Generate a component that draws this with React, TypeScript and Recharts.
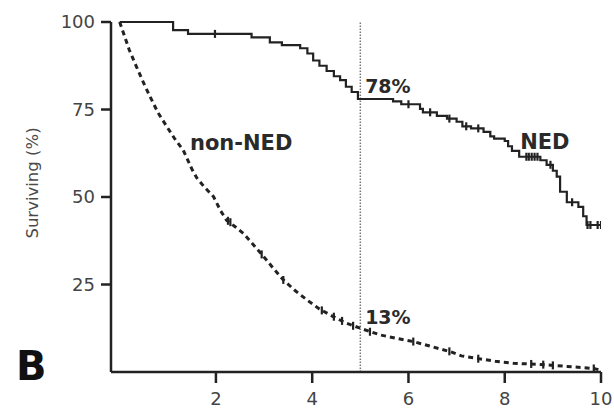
import React from 'react';
import {
  ComposedChart,
  Line,
  Scatter,
  XAxis,
  YAxis,
  ReferenceLine,
  ReferenceDot,
} from 'recharts';

// NED group: Kaplan-Meier steps (years, % surviving)
const nedTime = [
  0, 1.11, 1.42, 2.74, 3.12, 3.37, 3.75, 3.9, 4.02, 4.15, 4.3, 4.45, 4.58, 4.7, 4.82, 4.95,
  5.68, 5.85, 6.24, 6.3, 6.59, 6.8, 7.0, 7.12, 7.3, 7.56, 7.7, 7.78, 8.0, 8.07, 8.15, 8.3,
  8.74, 8.87, 9.0, 9.08, 9.15, 9.29, 9.53, 9.63, 9.7, 10.0,
];
const nedSurv = [
  100, 97.7, 96.6, 95.6, 94.2, 93.4, 92.5, 91, 89, 87.5, 86, 84.5, 83.4, 81.5, 80, 78,
  77.3, 76.5, 75.2, 74.2, 73.2, 72.4, 71.5, 70.2, 69.6, 68.6, 67.3, 66.7, 66, 64.5, 63.2, 61.5,
  60.5, 59.2, 57.5, 55.8, 51.5, 48.5, 47.2, 44.5, 42, 42,
];
const nedCensorTime = [1.98, 6.0, 6.45, 6.85, 7.2, 7.45, 8.45, 8.5, 8.56, 8.62, 8.68, 8.95, 9.4, 9.72, 9.78, 9.93, 10.0];
const nedCensorSurv = [96.6, 76.5, 74.2, 72.4, 70.2, 69.6, 61.5, 61.5, 61.5, 61.5, 61.5, 59.2, 48.5, 42, 42, 42, 42];

// non-NED group
const nonNedTime = [
  0, 0.1, 0.2, 0.35, 0.5, 0.63, 0.8, 0.98, 1.15, 1.32, 1.5, 1.6, 1.75, 1.95, 2.1, 2.22, 2.4,
  2.57, 2.8, 2.99, 3.2, 3.4, 3.65, 3.89, 4.15, 4.44, 4.7, 5.0, 5.41, 5.8, 6.1, 6.5, 6.87, 7.1,
  7.42, 7.8, 8.18, 8.5, 8.88, 9.3, 9.85, 10.0,
];
const nonNedSurv = [
  100, 96, 92, 87.2, 82.5, 78.7, 74, 70.1, 66.5, 63.4, 58, 55.5, 53, 50.1, 46, 43.4, 41.5,
  39.6, 36, 33, 29.5, 26.3, 23.2, 20.6, 18, 15.8, 14, 12.5, 10.6, 9.5, 8.7, 7.2, 5.8, 4.6,
  3.9, 3.1, 2.5, 2.3, 2.0, 1.6, 1.0, 0.5,
];
const nonNedCensorTime = [2.25, 2.3, 2.95, 3.4, 4.2, 4.45, 4.62, 4.85, 5.2, 6.1, 6.85, 7.45, 8.55, 8.8, 9.0, 9.85];
const nonNedCensorSurv = [43.2, 42.8, 33.6, 26.3, 17.6, 15.8, 14.6, 13.2, 11.5, 8.7, 5.9, 3.8, 2.3, 2.1, 1.9, 1.0];

const xTicks = [2, 4, 6, 8, 10];
const yTicks = [25, 50, 75, 100];
const landmarkYear = 5;

const toRows = (t: number[], v: number[]) => t.map((x, i) => ({ t: x, v: v[i] }));
const nedData = toRows(nedTime, nedSurv);
const nonNedData = toRows(nonNedTime, nonNedSurv);
const nedCensor = toRows(nedCensorTime, nedCensorSurv);
const nonNedCensor = toRows(nonNedCensorTime, nonNedCensorSurv);

const INK = '#222';
const FONT = '"DejaVu Sans", sans-serif';

const CensorMark = (props: any) => {
  const { cx, cy } = props;
  if (cx == null || cy == null) return null;
  return <line x1={cx} x2={cx} y1={cy - 4} y2={cy + 4} stroke={INK} strokeWidth={2.2} />;
};

const Annot = (props: any) => {
  const { viewBox, text, size } = props;
  if (!viewBox) return null;
  return (
    <text
      x={viewBox.x}
      y={viewBox.y}
      fontFamily={FONT}
      fontWeight="bold"
      fontSize={size}
      fill="#2a2a2a"
      dominantBaseline="central"
    >
      {text}
    </text>
  );
};

const YTitle = (props: any) => {
  const { viewBox } = props;
  if (!viewBox) return null;
  const x = viewBox.x + 32;
  const y = viewBox.y + viewBox.height / 2 - 14;
  return (
    <text
      x={x}
      y={y}
      transform={`rotate(-90, ${x}, ${y})`}
      textAnchor="middle"
      dominantBaseline="central"
      fontFamily={FONT}
      fontSize={16.5}
      fill="#4a4a4a"
    >
      Surviving (%)
    </text>
  );
};

const PanelLetter = (props: any) => {
  const { viewBox } = props;
  if (!viewBox) return null;
  return (
    <text x={viewBox.x - 95} y={viewBox.y + 8} fontFamily={FONT} fontWeight="bold" fontSize={40} fill="#111">
      B
    </text>
  );
};

export default function App() {
  return (
    <div style={{ position: 'absolute', left: 0, top: 0, width: 614, height: 410, background: '#fff' }}>
      <ComposedChart width={614} height={410} margin={{ top: 22, right: 13, left: 0, bottom: 0 }}>
        <XAxis
          type="number"
          dataKey="t"
          domain={[-0.18, 10]}
          ticks={xTicks}
          allowDataOverflow
          height={38}
          tickSize={11}
          tickMargin={9}
          axisLine={{ stroke: INK, strokeWidth: 2.5 }}
          tickLine={{ stroke: INK, strokeWidth: 2.5 }}
          tick={{ fill: '#444', fontSize: 18, fontFamily: FONT }}
          label={<PanelLetter />}
        />
        <YAxis
          type="number"
          dataKey="v"
          domain={[0, 100]}
          ticks={yTicks}
          width={111}
          tickSize={10}
          tickMargin={6}
          axisLine={{ stroke: INK, strokeWidth: 2.5 }}
          tickLine={{ stroke: INK, strokeWidth: 2.5 }}
          tick={{ fill: '#444', fontSize: 18, fontFamily: FONT }}
          label={<YTitle />}
        />
        <ReferenceLine x={landmarkYear} stroke="#777" strokeWidth={1.5} strokeDasharray="1.5 1.5" />
        <Line
          data={nedData}
          dataKey="v"
          type="stepAfter"
          stroke={INK}
          strokeWidth={2.2}
          dot={false}
          isAnimationActive={false}
        />
        <Line
          data={nonNedData}
          dataKey="v"
          type="linear"
          stroke={INK}
          strokeWidth={3}
          strokeDasharray="5 4"
          dot={false}
          isAnimationActive={false}
        />
        <Scatter data={nedCensor} dataKey="v" shape={<CensorMark />} isAnimationActive={false} />
        <Scatter data={nonNedCensor} dataKey="v" shape={<CensorMark />} isAnimationActive={false} />
        <ReferenceDot x={5.1} y={81.7} r={0} stroke="none" label={<Annot text="78%" size={19} />} />
        <ReferenceDot x={5.1} y={15.7} r={0} stroke="none" label={<Annot text="13%" size={19} />} />
        <ReferenceDot x={1.46} y={65.4} r={0} stroke="none" label={<Annot text="non-NED" size={21} />} />
        <ReferenceDot x={8.32} y={65.7} r={0} stroke="none" label={<Annot text="NED" size={21} />} />
      </ComposedChart>
    </div>
  );
}
